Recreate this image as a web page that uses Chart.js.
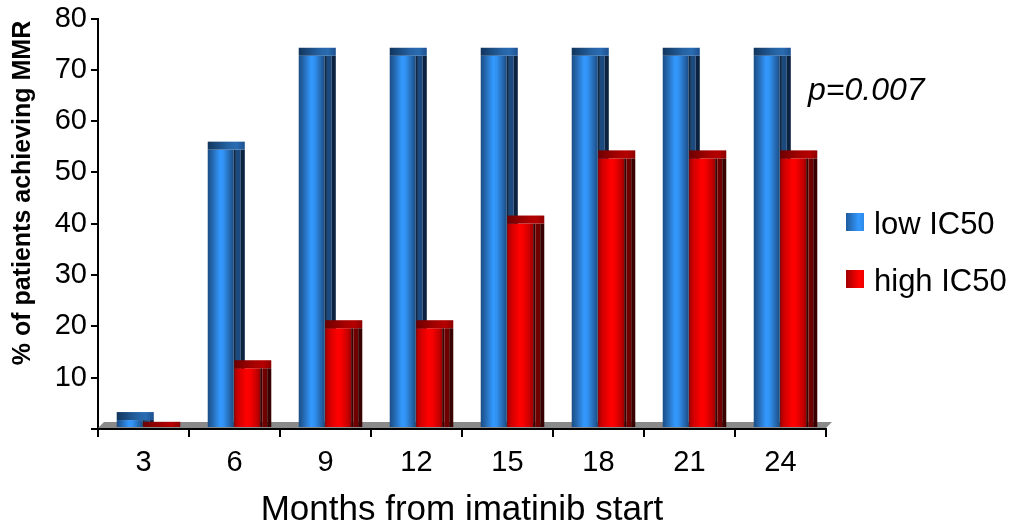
<!DOCTYPE html>
<html>
<head>
<meta charset="utf-8">
<title>MMR by IC50</title>
<script src="https://cdn.jsdelivr.net/npm/chart.js@4.4.1/dist/chart.umd.min.js"></script>
<style>
  html, body { margin: 0; padding: 0; background: #fff; }
  #wrap { width: 1016px; height: 531px; position: relative; }
</style>
</head>
<body>
<div id="wrap"><canvas id="mmrChart"></canvas></div>
<script>
// --- data ---
const months = ['3', '6', '9', '12', '15', '18', '21', '24'];
const lowIC50 = [3.3, 56, 74.3, 74.3, 74.3, 74.3, 74.3, 74.3];
const highIC50 = [1.4, 13.4, 21.2, 21.2, 41.6, 54.3, 54.3, 54.3];
const yTicks = [0, 10, 20, 30, 40, 50, 60, 70, 80];
const seriesNames = ['low IC50', 'high IC50'];
const yTitle = '% of patients achieving MMR';
const xTitle = 'Months from imatinib start';
const pValueText = 'p=0.007';

const FONT = '"Liberation Sans", Arial, Helvetica, sans-serif';

// colours for the cylinder look: front body, cap, seam and the two back strips
const palettes = [
    {
        body: [[0, '#1a4d86'], [0.18, '#2567ad'], [0.48, '#3399ff'], [0.62, '#3190f0'], [0.88, '#2362a6'], [1, '#1b4c84']],
        cap: [[0, '#11355d'], [0.55, '#2562a3'], [0.78, '#2a6cb2'], [1, '#1e5190']],
        seam: '#0d2848', strip: '#1c4a7e', back: '#0b2240',
        legend: [[0, '#1f5a9c'], [0.7, '#3399ff'], [1, '#2f8ae8']]
    },
    {
        body: [[0, '#a30000'], [0.18, '#d40000'], [0.48, '#ff0000'], [0.62, '#f70000'], [0.88, '#c40000'], [1, '#9c0000']],
        cap: [[0, '#6e0000'], [0.55, '#a80000'], [0.78, '#b50000'], [1, '#8c0000']],
        seam: '#3d0000', strip: '#700000', back: '#380000',
        legend: [[0, '#a00000'], [0.7, '#ff0000'], [1, '#f00000']]
    }
];

const DEPTH_SHIFT = 5;   // bars sit a little right of the category centre
const CAP_H = 8;

function hGradient(ctx, x0, x1, stops) {
    const g = ctx.createLinearGradient(x0, 0, x1, 0);
    stops.forEach(s => g.addColorStop(s[0], s[1]));
    return g;
}

function drawCylinder(ctx, bar, pal) {
    const w = bar.width;
    const left = bar.x - w / 2 + DEPTH_SHIFT;
    const top = bar.y;
    const bottom = bar.base - 1;
    const h = bottom - top;
    if (h <= 0) return;
    const capH = Math.min(CAP_H, h);
    const bodyW = w * 0.70;

    if (h > capH) {
        const y = top + capH, hh = h - capH;
        ctx.fillStyle = hGradient(ctx, left, left + bodyW, pal.body);
        ctx.fillRect(left, y, bodyW, hh);
        ctx.fillStyle = pal.seam;
        ctx.fillRect(left + bodyW, y, w * 0.06, hh);
        ctx.fillStyle = pal.strip;
        ctx.fillRect(left + w * 0.76, y, w * 0.13, hh);
        ctx.fillStyle = pal.back;
        ctx.fillRect(left + w * 0.89, y, w * 0.11, hh);
    }
    ctx.fillStyle = hGradient(ctx, left, left + w, pal.cap);
    ctx.fillRect(left, top, w, capH);
}

const cylinderBars = {
    id: 'cylinderBars',
    beforeDatasetsDraw(chart) {
        // grey floor under the bars
        const ctx = chart.ctx, a = chart.chartArea;
        const y0 = chart.scales.y.getPixelForValue(0);
        ctx.save();
        ctx.fillStyle = '#8a8a8a';
        ctx.beginPath();
        ctx.moveTo(a.left, y0 - 1);
        ctx.lineTo(a.left + 6, y0 - 7);
        ctx.lineTo(a.right + 6, y0 - 7);
        ctx.lineTo(a.right, y0 - 1);
        ctx.closePath();
        ctx.fill();
        ctx.restore();
    },
    afterDatasetsDraw(chart) {
        const ctx = chart.ctx;
        ctx.save();
        chart.data.datasets.forEach((ds, i) => {
            chart.getDatasetMeta(i).data.forEach(bar => drawCylinder(ctx, bar, palettes[i]));
        });
        ctx.restore();
    },
    afterDraw(chart) {
        const ctx = chart.ctx;
        ctx.save();
        ctx.fillStyle = '#000';

        // y axis title
        ctx.save();
        ctx.translate(23, 193);
        ctx.rotate(-Math.PI / 2);
        ctx.font = 'bold 25px ' + FONT;
        ctx.textAlign = 'center';
        ctx.textBaseline = 'middle';
        ctx.fillText(yTitle, 0, 0);
        ctx.restore();

        // x axis title
        const a = chart.chartArea;
        ctx.font = '35px ' + FONT;
        ctx.textAlign = 'center';
        ctx.textBaseline = 'alphabetic';
        ctx.fillText(xTitle, (a.left + a.right) / 2, 520);

        // p value
        ctx.font = 'italic 32px ' + FONT;
        ctx.textAlign = 'left';
        ctx.fillText(pValueText, 808, 100);

        // legend
        const rows = [213, 270];
        ctx.font = '31px ' + FONT;
        seriesNames.forEach((name, i) => {
            ctx.fillStyle = hGradient(ctx, 846, 864, palettes[i].legend);
            ctx.fillRect(846, rows[i], 18, 18);
            ctx.fillStyle = '#000';
            ctx.fillText(name, 874, rows[i] + 21);
        });
        ctx.restore();
    }
};

new Chart(document.getElementById('mmrChart'), {
    type: 'bar',
    data: {
        labels: months,
        datasets: [
            { label: seriesNames[0], data: lowIC50, backgroundColor: 'rgba(0,0,0,0)' },
            { label: seriesNames[1], data: highIC50, backgroundColor: 'rgba(0,0,0,0)' }
        ]
    },
    options: {
        responsive: true,
        maintainAspectRatio: false,
        animation: false,
        layout: { padding: { top: 18, right: 190, bottom: 0, left: 0 } },
        datasets: { bar: { categoryPercentage: 0.582, barPercentage: 1.4 } },
        plugins: {
            legend: { display: false },
            tooltip: { enabled: false }
        },
        scales: {
            x: {
                grid: { offset: true, drawOnChartArea: false, color: '#000', lineWidth: 2, tickLength: 8 },
                border: { color: '#000', width: 2 },
                ticks: { color: '#000', font: { family: FONT, size: 29 }, padding: 9 },
                afterFit(scale) { scale.height = 102; }
            },
            y: {
                min: 0,
                max: 80,
                afterBuildTicks(scale) { scale.ticks = yTicks.map(v => ({ value: v })); },
                grid: { drawOnChartArea: false, color: '#000', lineWidth: 2, tickLength: 7 },
                border: { color: '#000', width: 2 },
                ticks: {
                    color: '#000',
                    font: { family: FONT, size: 29, lineHeight: 1 },
                    padding: 4,
                    callback: v => (v === 0 ? '' : String(v))
                },
                afterFit(scale) { scale.width = 98; }
            }
        }
    },
    plugins: [cylinderBars]
});
</script>
</body>
</html>
